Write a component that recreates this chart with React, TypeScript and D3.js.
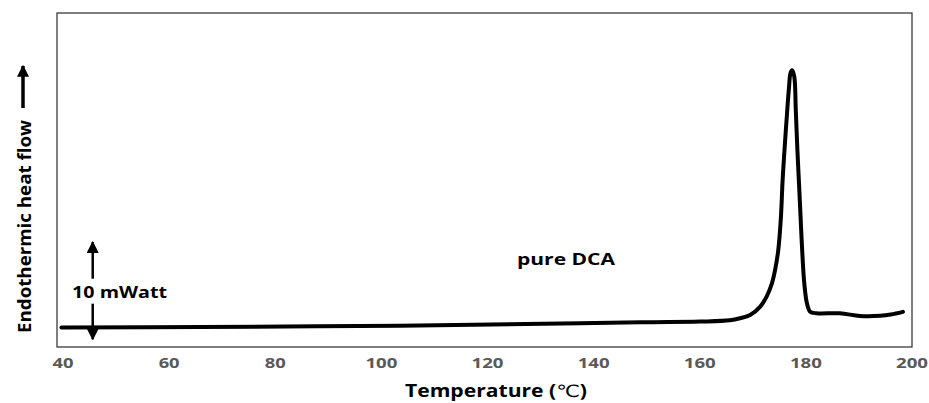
import React, { useEffect, useRef } from 'react';
import * as d3 from 'd3';

// DSC trace of pure DCA
// temperature in degC, heat flow in mW (arbitrary baseline)
const temperatures = [
  39.7, 65.8, 103.5, 137.4, 150.6, 160.0, 165.7, 167.6, 169.5, 171.4, 172.6, 173.6, 174.2,
  174.8, 175.3, 175.6, 175.9, 176.4, 176.8, 177.1, 177.4, 177.8, 178.1, 178.4, 178.7,
  179.0, 179.3, 179.7, 180.2, 180.8, 182.0, 186.4, 190.2, 194.0, 196.0, 198.3,
];
const heatFlow = [
  2.0, 2.05, 2.2, 2.45, 2.55, 2.62, 2.75, 2.96, 3.3, 4.16, 5.19, 6.56, 7.94,
  10.0, 13.4, 17.0, 19.7, 23.7, 26.6, 28.2, 28.5, 27.9, 24.4, 20.3, 16.9,
  13.4, 10.0, 6.56, 4.5, 3.64, 3.47, 3.47, 3.2, 3.22, 3.35, 3.62,
];

const xTicks = [40, 60, 80, 100, 120, 140, 160, 180, 200];
const xTitle = 'Temperature (';
const yTitle = 'Endothermic heat flow';
const seriesLabel = 'pure DCA';

// 10 mW scale bar
const scaleBarTemp = 45.6;
const scaleBarFrom = 0.8;
const scaleBarSpan = 10;
const scaleBarLabel = '10 mWatt';

const W = 929;
const H = 403;

const App = () => {
  const ref = useRef<SVGSVGElement | null>(null);

  useEffect(() => {
    const svg = d3.select(ref.current);
    svg.selectAll('*').remove();

    const frame = { left: 57, right: 912, top: 13, bottom: 347 };
    const font = "'Open Sans', 'DejaVu Sans', sans-serif";

    const x = d3.scaleLinear().domain([40, 200]).range([63, 912]);
    const y = d3.scaleLinear().domain([0, 34.4]).range([frame.bottom, frame.top]);

    const defs = svg.append('defs');
    defs.append('marker')
      .attr('id', 'head')
      .attr('viewBox', '0 0 10 10')
      .attr('refX', 9).attr('refY', 5)
      .attr('markerUnits', 'userSpaceOnUse')
      .attr('markerWidth', 12).attr('markerHeight', 12)
      .attr('orient', 'auto')
      .append('path')
      .attr('d', 'M0,0 L10,5 L0,10 Z')
      .attr('fill', '#000');

    // plot frame
    svg.append('rect')
      .attr('x', frame.left).attr('y', frame.top)
      .attr('width', frame.right - frame.left)
      .attr('height', frame.bottom - frame.top)
      .attr('fill', 'none')
      .attr('stroke', '#3a3a3a')
      .attr('stroke-width', 1.3);

    // tick labels
    svg.selectAll('.tick-label')
      .data(xTicks)
      .enter().append('text')
      .attr('class', 'tick-label')
      .attr('x', d => x(d))
      .attr('y', 368)
      .attr('text-anchor', 'middle')
      .attr('font-family', font)
      .attr('font-weight', 'bold')
      .attr('font-size', 14.5)
      .attr('fill', '#595959')
      .attr('textLength', d => (String(d).length === 3 ? 32 : 21))
      .attr('lengthAdjust', 'spacingAndGlyphs')
      .text(d => d);

    // x axis title
    const xt = svg.append('text')
      .attr('x', 496).attr('y', 397)
      .attr('text-anchor', 'middle')
      .attr('font-family', font)
      .attr('font-weight', 'bold')
      .attr('font-size', 17)
      .attr('fill', '#000')
      .attr('textLength', 182)
      .attr('lengthAdjust', 'spacingAndGlyphs');
    xt.append('tspan').text(xTitle);
    xt.append('tspan').attr('font-weight', 'normal').text('℃');
    xt.append('tspan').text(')');

    // y axis title (rotated) with arrow
    svg.append('text')
      .attr('transform', 'translate(31,226.5) rotate(-90)')
      .attr('text-anchor', 'middle')
      .attr('font-family', font)
      .attr('font-weight', 'bold')
      .attr('font-size', 18.5)
      .attr('fill', '#000')
      .attr('textLength', 213)
      .attr('lengthAdjust', 'spacingAndGlyphs')
      .text(yTitle);

    svg.append('line')
      .attr('x1', 23).attr('y1', 108)
      .attr('x2', 23).attr('y2', 66)
      .attr('stroke', '#000')
      .attr('stroke-width', 3.5)
      .attr('marker-end', 'url(#head)');

    // DSC curve
    const data = temperatures.map((t, i) => [t, heatFlow[i]] as [number, number]);
    const line = d3.line<[number, number]>()
      .x(d => x(d[0]))
      .y(d => y(d[1]))
      .curve(d3.curveCatmullRom.alpha(0.5));

    svg.append('path')
      .datum(data)
      .attr('d', line)
      .attr('fill', 'none')
      .attr('stroke', '#000')
      .attr('stroke-width', 4)
      .attr('stroke-linejoin', 'round')
      .attr('stroke-linecap', 'round');

    // series label
    svg.append('text')
      .attr('x', 566).attr('y', 265)
      .attr('text-anchor', 'middle')
      .attr('font-family', font)
      .attr('font-weight', 'bold')
      .attr('font-size', 15.5)
      .attr('fill', '#000')
      .attr('textLength', 98)
      .attr('lengthAdjust', 'spacingAndGlyphs')
      .text(seriesLabel);

    // 10 mW scale bar
    const bx = x(scaleBarTemp);
    const yLo = y(scaleBarFrom);
    const yHi = y(scaleBarFrom + scaleBarSpan);
    const mid = (yLo + yHi) / 2;
    svg.append('line')
      .attr('x1', bx).attr('y1', mid - 12)
      .attr('x2', bx).attr('y2', yHi)
      .attr('stroke', '#000').attr('stroke-width', 2.5)
      .attr('marker-end', 'url(#head)');
    svg.append('line')
      .attr('x1', bx).attr('y1', mid + 13)
      .attr('x2', bx).attr('y2', yLo)
      .attr('stroke', '#000').attr('stroke-width', 2.5)
      .attr('marker-end', 'url(#head)');
    svg.append('text')
      .attr('x', 119.5).attr('y', 298)
      .attr('text-anchor', 'middle')
      .attr('font-family', font)
      .attr('font-weight', 'bold')
      .attr('font-size', 16)
      .attr('fill', '#000')
      .attr('textLength', 95)
      .attr('lengthAdjust', 'spacingAndGlyphs')
      .text(scaleBarLabel);
  }, []);

  return (
    <svg
      ref={ref}
      width={W}
      height={H}
      style={{ position: 'absolute', left: 0, top: 0, background: '#fff', display: 'block' }}
    />
  );
};

export default App;
